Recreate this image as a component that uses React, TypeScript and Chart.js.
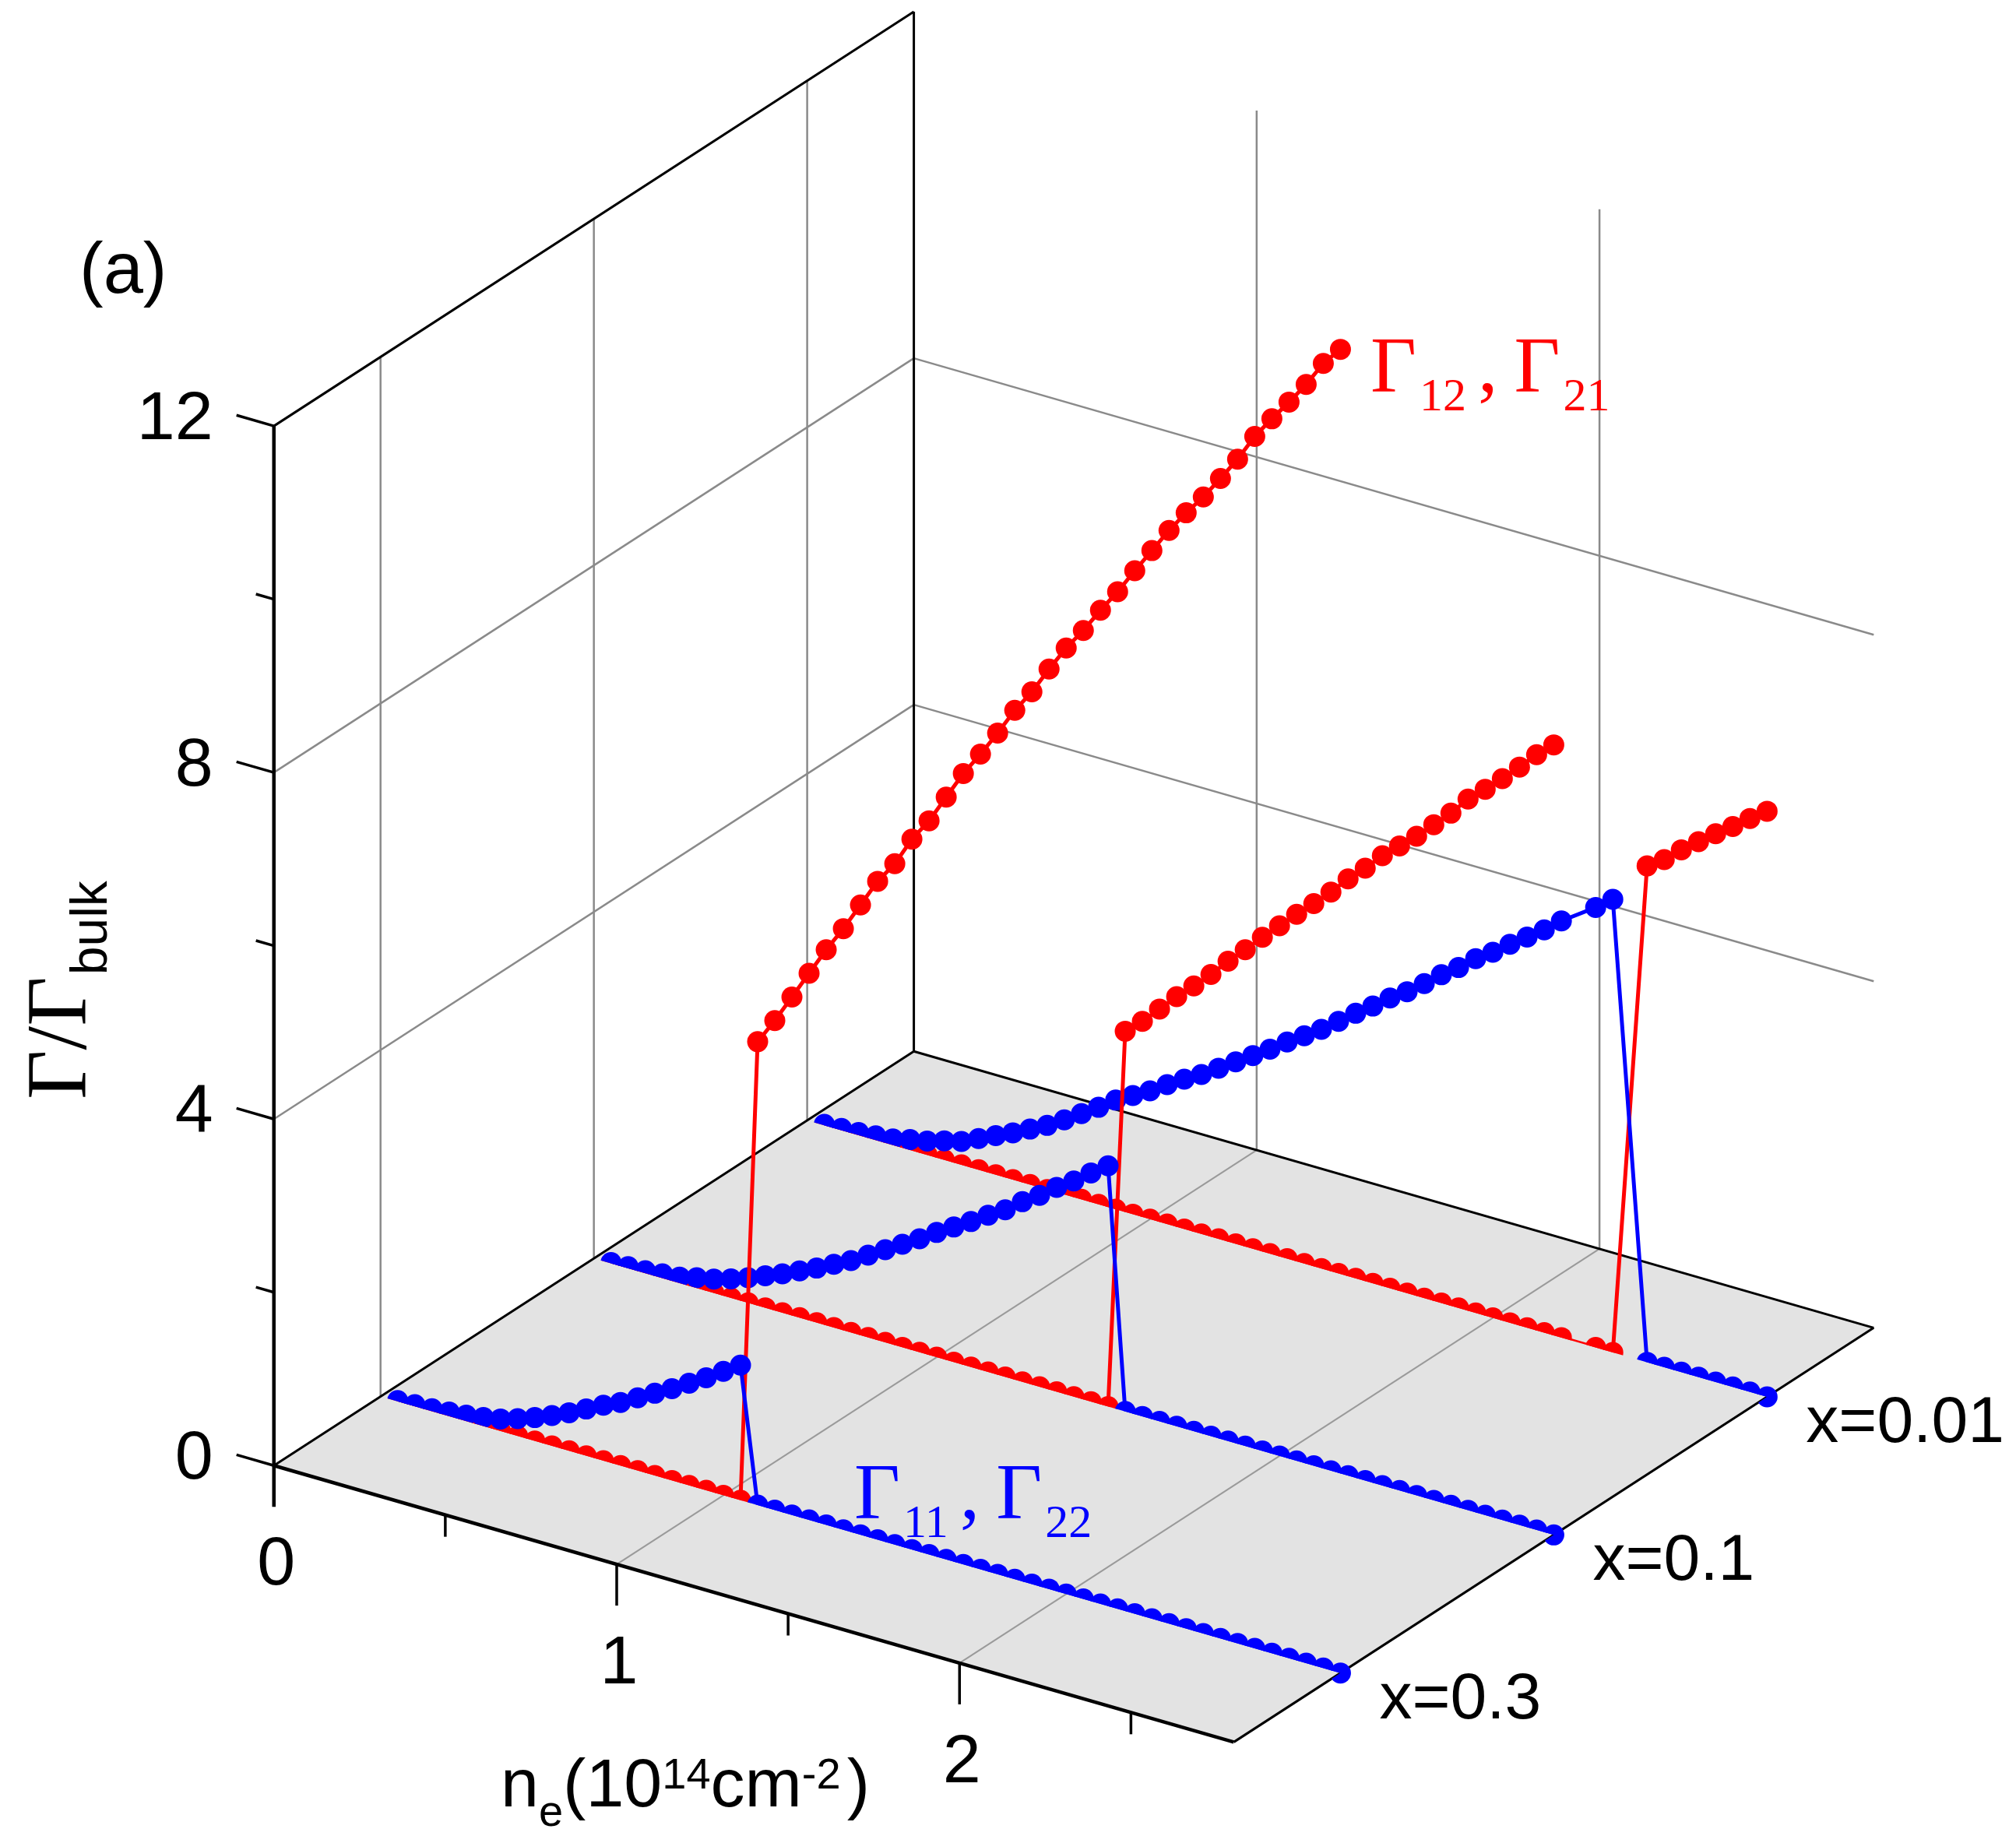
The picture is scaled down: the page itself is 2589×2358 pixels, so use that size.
import React, { useEffect, useRef } from "react";
import { Chart, registerables } from "chart.js";

Chart.register(...registerables);

const W = 2589;
const H = 2358;

// ---------- data ----------
// electron density n_e (10^14 cm^-2)
const NE = [
  0.05, 0.1, 0.15, 0.2, 0.25, 0.3, 0.35, 0.4, 0.45, 0.5,
  0.55, 0.6, 0.65, 0.7, 0.75, 0.8, 0.85, 0.9, 0.95, 1.0,
  1.05, 1.1, 1.15, 1.2, 1.25, 1.3, 1.35, 1.4, 1.45, 1.5,
  1.55, 1.6, 1.65, 1.7, 1.75, 1.8, 1.85, 1.9, 1.95, 2.0,
  2.05, 2.1, 2.15, 2.2, 2.25, 2.3, 2.35, 2.4, 2.45, 2.5,
  2.55, 2.6, 2.65, 2.7, 2.75, 2.8,
];

// depth categories (front to back)
const SERIES_X = ["x=0.3", "x=0.1", "x=0.01"];

const GAMMA_MAJOR = [0, 4, 8, 12];
const GAMMA_MINOR = [2, 6, 10];
const NE_MAJOR = [0, 1, 2];
const NE_MINOR = [0.5, 1.5, 2.5];
const NE_MAX = 2.8;
const GAMMA_MAX = 12;

// Γ12, Γ21  (red)  x = 0.3
const G12_X03 = [
  0, 0, 0, 0, 0, 0, 0, 0, 0, 0,
  0, 0, 0, 0, 0, 0, 0, 0, 0, 0,
  0, 5.35, 5.65, 5.98, 6.31, 6.64, 6.94, 7.27, 7.6, 7.86,
  8.2, 8.47, 8.8, 9.13, 9.41, 9.71, 10.03, 10.3, 10.62, 10.92,
  11.18, 11.47, 11.74, 12.04, 12.33, 12.62, 12.88, 13.12, 13.39, 13.67,
  13.99, 14.25, 14.5, 14.76, 15.06, 15.28,
];
// Γ11, Γ22  (blue) x = 0.3
const G11_X03 = [
  0.01, 0.02, 0.03, 0.05, 0.07, 0.1, 0.14, 0.2, 0.27, 0.35,
  0.44, 0.54, 0.64, 0.73, 0.84, 0.95, 1.06, 1.18, 1.3, 1.43,
  1.56, 0, 0, 0, 0, 0, 0, 0, 0, 0,
  0, 0, 0, 0, 0, 0, 0, 0, 0, 0,
  0, 0, 0, 0, 0, 0, 0, 0, 0, 0,
  0, 0, 0, 0, 0, 0,
];
// Γ12, Γ21  (red)  x = 0.1
const G12_X01 = [
  0, 0, 0, 0, 0, 0, 0, 0, 0, 0,
  0, 0, 0, 0, 0, 0, 0, 0, 0, 0,
  0, 0, 0, 0, 0, 0, 0, 0, 0, 0,
  4.39, 4.56, 4.76, 4.96, 5.14, 5.33, 5.54, 5.73, 5.93, 6.12,
  6.31, 6.49, 6.68, 6.89, 7.07, 7.27, 7.44, 7.61, 7.8, 7.99,
  8.21, 8.38, 8.56, 8.75, 8.95, 9.12,
];
// Γ11, Γ22  (blue) x = 0.1
const G11_X01 = [
  0.01, 0.02, 0.03, 0.05, 0.07, 0.12, 0.16, 0.22, 0.29, 0.37,
  0.45, 0.54, 0.63, 0.73, 0.83, 0.95, 1.07, 1.19, 1.31, 1.44,
  1.56, 1.68, 1.81, 1.93, 2.08, 2.21, 2.36, 2.49, 2.64, 2.78,
  0, 0, 0, 0, 0, 0, 0, 0, 0, 0,
  0, 0, 0, 0, 0, 0, 0, 0, 0, 0,
  0, 0, 0, 0, 0, 0,
];
// Γ12, Γ21  (red)  x = 0.01   (null = no sample)
const G12_X001 = [
  0, 0, 0, 0, 0, 0, 0, 0, 0, 0,
  0, 0, 0, 0, 0, 0, 0, 0, 0, 0,
  0, 0, 0, 0, 0, 0, 0, 0, 0, 0,
  0, 0, 0, 0, 0, 0, 0, 0, 0, 0,
  0, 0, 0, 0, null, 0, 0, null, 5.73, 5.86,
  6.03, 6.18, 6.33, 6.47, 6.62, 6.76,
];
// Γ11, Γ22  (blue) x = 0.01
const G11_X001 = [
  0.01, 0.02, 0.03, 0.05, 0.07, 0.12, 0.16, 0.22, 0.27, 0.36,
  0.45, 0.54, 0.64, 0.74, 0.86, 0.99, 1.12, 1.26, 1.37, 1.48,
  1.61, 1.73, 1.84, 1.97, 2.1, 2.23, 2.36, 2.5, 2.63, 2.76,
  2.91, 3.06, 3.2, 3.35, 3.48, 3.63, 3.79, 3.93, 4.09, 4.22,
  4.37, 4.51, 4.65, 4.81, null, 5.08, 5.23, null, 0, 0,
  0, 0, 0, 0, 0, 0,
];

// ---------- styles ----------
const RED = "#ff0000";
const BLUE = "#0000ff";
const FLOOR = "#e3e3e3";
const GRID = "#8a8a8a";
const GRID_FLOOR = "#9a9a9a";
const SANS = '"Liberation Sans", Arial, sans-serif';
const SERIF = '"Liberation Serif", "Times New Roman", serif';

// oblique view of the 3-D box (scale units)
const VIEW = {
  ox: 341.8, oy: 1890.4,
  neX: 444.9, neY: 128.3,
  gY: -112.55,
  dX: 830.5, dY: -538.2,
};
const projX = (ne: number, _g: number, d: number) => VIEW.ox + VIEW.neX * ne + VIEW.dX * d;
const projY = (ne: number, g: number, d: number) => VIEW.oy + VIEW.neY * ne + VIEW.gY * g + VIEW.dY * d;
const depthOf = (cat: number) => (cat + 0.5) / SERIES_X.length;

function P(chart: any, ne: number, g: number, d: number) {
  return {
    x: chart.scales.x.getPixelForValue(projX(ne, g, d)),
    y: chart.scales.y.getPixelForValue(projY(ne, g, d)),
  };
}

const SERIES = [
  { cat: 2, values: G12_X001, color: RED, order: 6 },
  { cat: 2, values: G11_X001, color: BLUE, order: 5 },
  { cat: 1, values: G12_X01, color: RED, order: 4 },
  { cat: 1, values: G11_X01, color: BLUE, order: 3 },
  { cat: 0, values: G12_X03, color: RED, order: 2 },
  { cat: 0, values: G11_X03, color: BLUE, order: 1 },
];

// markers/lines on the floor are hidden by the part of the floor in front of them
const floorOcclusion = {
  id: "floorOcclusion",
  beforeDatasetDraw(chart: any, args: any) {
    const ds = chart.data.datasets[args.index];
    const t = ds.depth as number;
    const ctx = chart.ctx;
    ctx.save();
    ctx.beginPath();
    ctx.rect(0, 0, chart.width, chart.height);
    const q = [P(chart, 0, 0, 0), P(chart, NE_MAX, 0, 0), P(chart, NE_MAX, 0, t), P(chart, 0, 0, t)];
    ctx.moveTo(q[0].x, q[0].y);
    for (let i = 1; i < q.length; i++) ctx.lineTo(q[i].x, q[i].y);
    ctx.closePath();
    ctx.clip("evenodd");
  },
  afterDatasetDraw(chart: any) {
    chart.ctx.restore();
  },
};

const boxPlugin = {
  id: "box3d",
  beforeDatasetsDraw(chart: any) {
    const ctx = chart.ctx;
    const p = (ne: number, g: number, d: number) => P(chart, ne, g, d);
    const seg = (a: any, b: any, color: string, w: number) => {
      ctx.beginPath();
      ctx.moveTo(a.x, a.y);
      ctx.lineTo(b.x, b.y);
      ctx.strokeStyle = color;
      ctx.lineWidth = w;
      ctx.stroke();
    };
    ctx.save();
    ctx.lineCap = "butt";
    // floor
    const f = [p(0, 0, 0), p(NE_MAX, 0, 0), p(NE_MAX, 0, 1), p(0, 0, 1)];
    ctx.beginPath();
    ctx.moveTo(f[0].x, f[0].y);
    for (let i = 1; i < 4; i++) ctx.lineTo(f[i].x, f[i].y);
    ctx.closePath();
    ctx.fillStyle = FLOOR;
    ctx.fill();
    NE_MAJOR.filter((n) => n > 0).forEach((n) => seg(p(n, 0, 0), p(n, 0, 1), GRID_FLOOR, 2));
    // left wall grid
    SERIES_X.forEach((_, i) => seg(p(0, 0, depthOf(i)), p(0, GAMMA_MAX, depthOf(i)), GRID, 2.5));
    GAMMA_MAJOR.filter((g) => g > 0 && g < GAMMA_MAX).forEach((g) => seg(p(0, g, 0), p(0, g, 1), GRID, 2.5));
    // back wall grid
    NE_MAJOR.filter((n) => n > 0).forEach((n) => seg(p(n, 0, 1), p(n, GAMMA_MAX, 1), GRID, 2.5));
    GAMMA_MAJOR.filter((g) => g > 0 && g < GAMMA_MAX).forEach((g) => seg(p(0, g, 1), p(NE_MAX, g, 1), GRID, 2.5));
    // edges
    seg(f[0], f[3], "#000", 3);
    seg(f[3], f[2], "#000", 3);
    seg(f[1], f[2], "#000", 3);
    seg(p(0, GAMMA_MAX, 0), p(0, GAMMA_MAX, 1), "#000", 3);
    seg(p(0, 0, 1), p(0, GAMMA_MAX, 1), "#000", 3);
    seg(f[0], f[1], "#000", 4.5);
    seg(p(0, 0, 0), p(0, GAMMA_MAX, 0), "#000", 4.5);
    // Γ axis ticks (pointing along -n_e)
    const a0 = p(0, 0, 0), a1 = p(1, 0, 0);
    const len = Math.hypot(a1.x - a0.x, a1.y - a0.y);
    const ux = -(a1.x - a0.x) / len, uy = -(a1.y - a0.y) / len;
    GAMMA_MAJOR.forEach((g) => {
      const s = p(0, g, 0);
      seg(s, { x: s.x + ux * 50, y: s.y + uy * 50 }, "#000", 3.5);
    });
    GAMMA_MINOR.forEach((g) => {
      const s = p(0, g, 0);
      seg(s, { x: s.x + ux * 24, y: s.y + uy * 24 }, "#000", 3.5);
    });
    // n_e axis ticks (vertical, downward)
    NE_MAJOR.forEach((n) => {
      const s = p(n, 0, 0);
      seg(s, { x: s.x, y: s.y + 53 }, "#000", n === 0 ? 4.5 : 3.5);
    });
    NE_MINOR.forEach((n) => {
      const s = p(n, 0, 0);
      seg(s, { x: s.x, y: s.y + 28 }, "#000", 3.5);
    });
    ctx.restore();
  },
  afterDatasetsDraw(chart: any) {
    const ctx = chart.ctx;
    const p = (ne: number, g: number, d: number) => P(chart, ne, g, d);
    ctx.save();
    ctx.fillStyle = "#000";
    ctx.textBaseline = "alphabetic";

    // Γ tick labels
    const a0 = p(0, 0, 0), a1 = p(1, 0, 0);
    const len = Math.hypot(a1.x - a0.x, a1.y - a0.y);
    const ux = -(a1.x - a0.x) / len, uy = -(a1.y - a0.y) / len;
    ctx.font = `88px ${SANS}`;
    ctx.textAlign = "right";
    GAMMA_MAJOR.forEach((g) => {
      const s = p(0, g, 0);
      const e = { x: s.x + ux * 50, y: s.y + uy * 50 };
      ctx.fillText(String(g), e.x - 30, e.y + 31);
    });
    // n_e tick labels
    ctx.textAlign = "center";
    NE_MAJOR.forEach((n) => {
      const s = p(n, 0, 0);
      ctx.fillText(String(n), s.x + 3, s.y + 53 + 100);
    });

    // series labels
    ctx.font = `84px ${SANS}`;
    ctx.textAlign = "left";
    SERIES_X.forEach((lab, i) => {
      const e = p(NE_MAX, 0, depthOf(i));
      ctx.fillText(lab, e.x + 50, e.y + 58);
    });

    // (a)
    ctx.font = `92px ${SANS}`;
    ctx.fillText("(a)", 102, 376);

    // n_e axis title
    const pieces: [string, number, number][] = [
      ["n", 88, 0], ["e", 56, 25], ["(10", 88, 0], ["14", 56, -23], ["cm", 88, 0], ["-2", 56, -23], [")", 88, 0],
    ];
    let cx = 643;
    const by = 2320;
    pieces.forEach(([t, sz, dy]) => {
      ctx.font = `${sz}px ${SANS}`;
      ctx.fillText(t, cx, by + dy);
      cx += ctx.measureText(t).width + (t === "-2" ? 8 : 0);
    });

    // Γ/Γbulk (rotated)
    ctx.save();
    ctx.translate(110, 1412);
    ctx.rotate(-Math.PI / 2);
    ctx.font = `110px ${SERIF}`;
    ctx.fillText("Γ/Γ", 0, 0);
    const wg = ctx.measureText("Γ/Γ").width;
    ctx.font = `66px ${SANS}`;
    ctx.fillText("bulk", wg + 2, 27);
    ctx.restore();

    // series legends
    const gammaPair = (x: number, y: number, subs: string[], color: string) => {
      const big = `102px ${SERIF}`;
      const small = `60px ${SERIF}`;
      ctx.fillStyle = color;
      let gx = x;
      ctx.font = big;
      ctx.fillText("Γ", gx, y);
      gx += ctx.measureText("Γ").width + 4;
      ctx.font = small;
      ctx.fillText(subs[0], gx, y + 24);
      gx += ctx.measureText(subs[0]).width + 15;
      ctx.font = big;
      ctx.fillText(",", gx, y);
      gx += ctx.measureText(",").width + 21;
      ctx.fillText("Γ", gx, y);
      gx += ctx.measureText("Γ").width + 4;
      ctx.font = small;
      ctx.fillText(subs[1], gx, y + 24);
    };
    gammaPair(1760, 503, ["12", "21"], RED);
    gammaPair(1097, 1950, ["11", "22"], BLUE);

    ctx.restore();
  },
};

export default function App() {
  const ref = useRef<HTMLCanvasElement | null>(null);
  useEffect(() => {
    if (!ref.current) return;
    const datasets = SERIES.map((s) => {
      const d = depthOf(s.cat);
      const data: { x: number; y: number }[] = [];
      NE.forEach((n, i) => {
        const v = s.values[i];
        if (v === null || v === undefined) return;
        data.push({ x: projX(n, v, d), y: projY(n, v, d) });
      });
      return {
        data,
        depth: d,
        order: s.order,
        showLine: true,
        borderColor: s.color,
        borderWidth: 5,
        backgroundColor: s.color,
        pointBackgroundColor: s.color,
        pointBorderWidth: 0,
        pointRadius: 13.5,
        pointHoverRadius: 13.5,
        tension: 0,
        clip: false as any,
      };
    });
    const chart = new Chart(ref.current, {
      type: "scatter",
      data: { datasets: datasets as any },
      options: {
        animation: false,
        responsive: false,
        maintainAspectRatio: false,
        devicePixelRatio: 1,
        events: [],
        layout: { padding: 0 },
        plugins: { legend: { display: false }, tooltip: { enabled: false } },
        scales: {
          x: { type: "linear", min: 0, max: W, display: false },
          y: { type: "linear", min: 0, max: H, reverse: true, display: false },
        },
      },
      plugins: [boxPlugin, floorOcclusion],
    });
    return () => chart.destroy();
  }, []);
  return (
    <div style={{ position: "absolute", left: 0, top: 0, width: W, height: H, background: "#fff" }}>
      <canvas ref={ref} width={W} height={H} style={{ display: "block", width: W, height: H }} />
    </div>
  );
}
